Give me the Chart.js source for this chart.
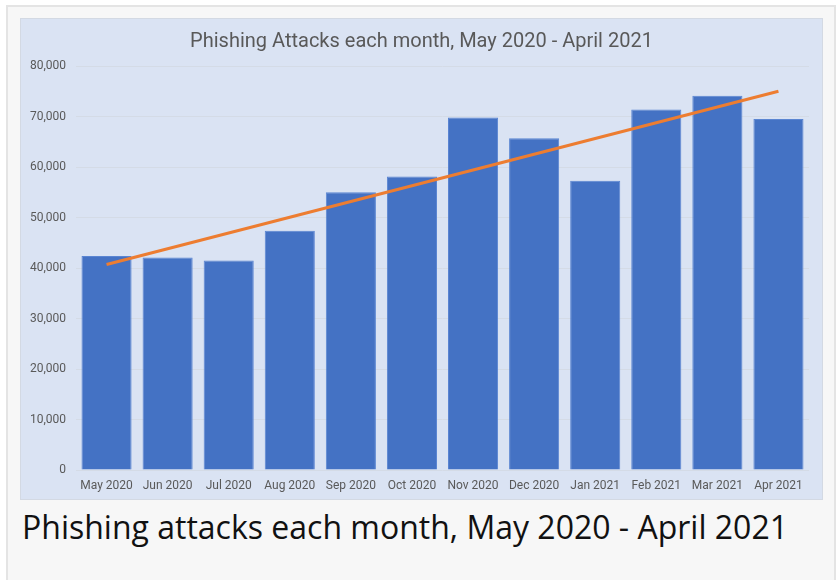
<!DOCTYPE html>
<html>
<head>
<meta charset="utf-8">
<script src="https://cdn.jsdelivr.net/npm/chart.js@4"></script>
<style>
    html, body { margin: 0; padding: 0; background: #fff; }
    body { width: 836px; height: 580px; position: relative; overflow: hidden; }
    #frame {
        position: absolute; left: 6px; top: 5px; width: 826px; height: 580px;
        background: #f7f7f7; border: 2px solid #e4e4e4; border-bottom: none;
    }
    #chart-box {
        position: absolute; left: 20px; top: 18px; width: 801px; height: 480px;
        background: #dae3f3; border: 1px solid #d3d9e3;
    }
    #caption {
        position: absolute; left: 22px; top: 505px; margin: 0;
        font-family: "Open Sans", sans-serif; font-size: 32px; font-weight: 400; color: #111;
        white-space: nowrap;
    }
</style>
</head>
<body>
<div id="frame"></div>
<div id="chart-box"><canvas id="chart"></canvas></div>
<p id="caption">Phishing attacks each month, May 2020 - April 2021</p>
<script>
// values
const months = ['May 2020', 'Jun 2020', 'Jul 2020', 'Aug 2020', 'Sep 2020', 'Oct 2020',
    'Nov 2020', 'Dec 2020', 'Jan 2021', 'Feb 2021', 'Mar 2021', 'Apr 2021'];
const attacks = [42400, 42100, 41500, 47400, 55000, 58100, 69800, 65700, 57300, 71400, 74100, 69500];
// linear trendline: only its two ends are drawn, the line spans the gap
const trend = [40700, null, null, null, null, null, null, null, null, null, null, 75000];

const textColor = '#595959';

document.addEventListener("DOMContentLoaded", () => {
    const canvas = document.getElementById('chart');
    canvas.width = 801;
    canvas.height = 480;

    new Chart(canvas.getContext('2d'), {
        data: {
            labels: months,
            datasets: [
                {
                    type: 'line',
                    data: trend,
                    spanGaps: true,
                    borderColor: '#ed7d31',
                    borderWidth: 3,
                    pointRadius: 0,
                    order: 0,
                },
                {
                    type: 'bar',
                    data: attacks,
                    backgroundColor: '#4472c4',
                    borderColor: '#5a85d2',
                    borderWidth: 1,
                    categoryPercentage: 1,
                    barPercentage: 0.82,
                    order: 1,
                },
            ]
        },
        options: {
            responsive: false,
            animation: false,
            plugins: {
                legend: { display: false },
                tooltip: { enabled: false },
                title: {
                    display: true,
                    text: 'Phishing Attacks each month, May 2020 - April 2021',
                    color: textColor,
                    font: { family: 'Roboto', size: 20, weight: 'normal' },
                    padding: { top: 11, bottom: 12 },
                },
            },
            scales: {
                x: {
                    grid: { display: false },
                    border: { display: false },
                    ticks: {
                        color: textColor,
                        font: { family: 'Roboto', size: 12 },
                        maxRotation: 0,
                        autoSkip: false,
                        padding: 1,
                    },
                    afterFit: (scale) => { scale.height = 29; },
                },
                y: {
                    min: 0,
                    max: 80000,
                    ticks: {
                        stepSize: 10000,
                        color: textColor,
                        font: { family: 'Roboto', size: 12 },
                        padding: 10,
                        callback: (value) => value.toLocaleString('en-US'),
                    },
                    grid: { color: '#d4dbe6', lineWidth: 1, drawTicks: false },
                    border: { display: false },
                    afterFit: (scale) => { scale.width = 55; },
                },
                // empty right axis: keeps a gap at the right without moving the title
                yRight: {
                    position: 'right',
                    min: 0,
                    max: 80000,
                    ticks: { display: false },
                    grid: { display: false },
                    border: { display: false },
                    afterFit: (scale) => { scale.width = 13; },
                },
            },
        },
    });
});
</script>
</body>
</html>
